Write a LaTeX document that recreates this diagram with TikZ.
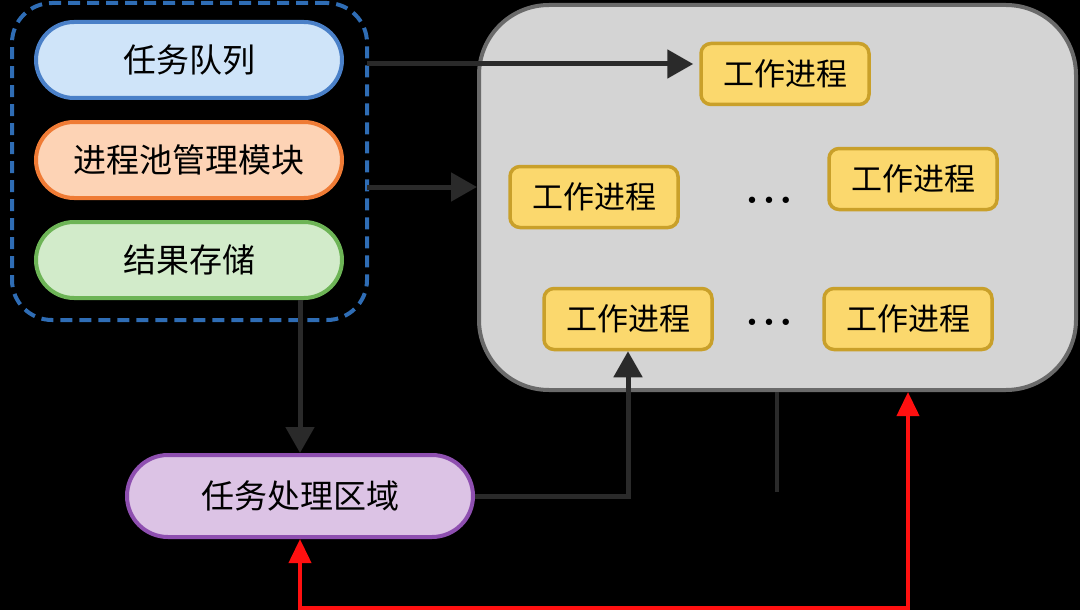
\documentclass[tikz,border=0pt]{standalone}
\usepackage{fontspec}
\setmainfont{Noto Sans CJK SC}
\newfontfamily\dotfont{DejaVu Sans}
\usetikzlibrary{arrows.meta}
\definecolor{bluefill}{HTML}{CFE4F9}
\definecolor{blueline}{HTML}{4A80C8}
\definecolor{orangefill}{HTML}{FDD3B5}
\definecolor{orangeline}{HTML}{EF7B35}
\definecolor{greenfill}{HTML}{D2EBCA}
\definecolor{greenline}{HTML}{6DB456}
\definecolor{purplefill}{HTML}{DCC3E5}
\definecolor{purpleline}{HTML}{8E4FB0}
\definecolor{dashblue}{HTML}{2F6DB5}
\definecolor{poolfill}{HTML}{D4D4D4}
\definecolor{poolline}{HTML}{6A6A6A}
\definecolor{wkfill}{HTML}{FBD86D}
\definecolor{wkline}{HTML}{C9A02A}
\definecolor{arrcol}{HTML}{2A2A2A}
\definecolor{redarr}{HTML}{FF1010}
\tikzset{
  pill/.style={draw, line width=4pt, rounded corners=38pt, minimum width=306pt,
    minimum height=76pt, inner sep=0pt, font=\fontsize{33}{38}\selectfont},
  worker/.style={draw=wkline, fill=wkfill, line width=3.5pt, rounded corners=10pt,
    minimum width=168pt, minimum height=61pt, inner sep=0pt, font=\fontsize{31}{36}\selectfont},
  conn/.style={draw=arrcol, line width=5pt, -{Triangle[length=26pt,width=28pt]}},
  dotsnode/.style={inner sep=0pt, font=\dotfont\fontsize{22}{24}\selectfont}
}
\begin{document}
\begin{tikzpicture}[x=1pt,y=-1pt]
\fill[black] (0,0) rectangle (1080,610);
\useasboundingbox (0,0) rectangle (1080,610);

% group box
\node (grp) [draw=dashblue, line width=4pt, dash pattern=on 12pt off 7pt, rounded corners=40pt,
  minimum width=355pt, minimum height=317pt] at (189.5,161.5) {};
\node (q) [pill, draw=blueline, fill=bluefill] at (189,60) {任务队列};
\node (m) [pill, draw=orangeline, fill=orangefill] at (189,160) {进程池管理模块};
\node (r) [pill, draw=greenline, fill=greenfill] at (189,260) {结果存储};

% pool
\node (pool) [draw=poolline, fill=poolfill, line width=4pt, rounded corners=70pt,
  minimum width=597pt, minimum height=385pt] at (777.5,197.5) {};
\node (w1) [worker] at (785,74) {工作进程};
\node (w2) [worker] at (594,197) {工作进程};
\node (w3) [worker] at (913,179) {工作进程};
\node (w4) [worker] at (628,319) {工作进程};
\node (w5) [worker] at (908,319) {工作进程};
\node (d1) [dotsnode] at (769,203) {•\hspace{4pt}•\hspace{4pt}•};
\node (d2) [dotsnode] at (769,325) {•\hspace{4pt}•\hspace{4pt}•};

% task processing
\node (t) [pill, draw=purpleline, fill=purplefill, minimum width=346pt, minimum height=82pt,
  rounded corners=41pt] at (300,496) {任务处理区域};

% connectors
\coordinate (a1s) at (367,64);
\draw[conn] (a1s) -- (a1s -| w1.west) [shorten >=6pt];
\coordinate (a2s) at (367,187);
\draw[conn] (a2s) -- (a2s -| pool.west);
\draw[conn] (r.south -| t.north) -- (t.north);
\draw[conn] (t.east) -| (w4.south);
\coordinate (strayend) at (777,492);
\draw[draw=arrcol, line width=3.5pt] (pool.south -| strayend) -- (strayend);
\draw[draw=redarr, line width=4pt, {Triangle[length=24pt,width=22pt]}-{Triangle[length=24pt,width=22pt]}]
  (t.south) -- ++(0,69) -| (pool.south -| w5.south);
\end{tikzpicture}
\end{document}
